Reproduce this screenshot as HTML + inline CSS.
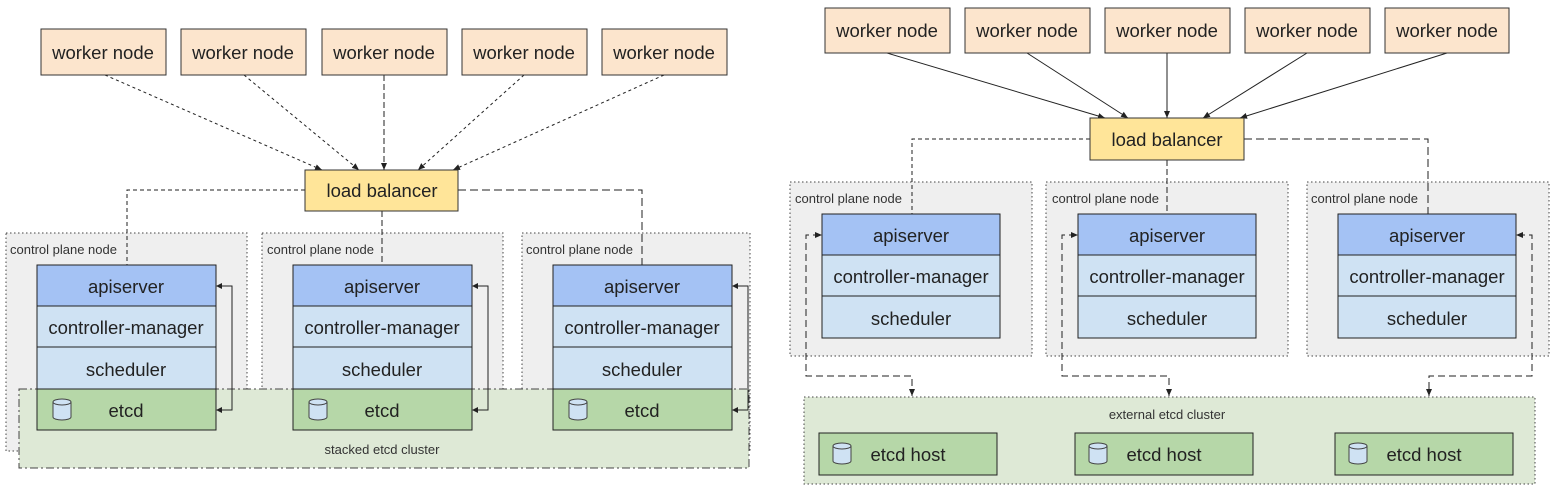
<!DOCTYPE html>
<html><head><meta charset="utf-8"><style>
html,body{margin:0;padding:0;background:#fff;}
svg{display:block;font-family:"Liberation Sans",Arial,sans-serif;}
.big{font-size:18.5px;fill:#222;}
.sm{font-size:13px;fill:#333;}
</style></head><body>
<svg width="1554" height="492" viewBox="0 0 1554 492" xmlns="http://www.w3.org/2000/svg">
<defs>
<marker id="a" markerWidth="8" markerHeight="8" refX="7" refY="4" orient="auto" markerUnits="userSpaceOnUse"><path d="M0,1 L7,4 L0,7 z" fill="#222"/></marker>
<g id="cyl"><path d="M0,3 a9,3 0 0 1 18,0 v15 a9,3 0 0 1 -18,0 z" fill="#cfe2f3" stroke="#444" stroke-width="1"/><path d="M0,3 a9,3 0 0 0 18,0" fill="none" stroke="#444"/></g>
</defs>

<!-- LEFT DIAGRAM -->
<g stroke="#444" stroke-width="1">
<rect x="6" y="233" width="241" height="218" fill="#efefef" stroke-dasharray="1.5,2.5"/>
<rect x="262" y="233" width="241" height="218" fill="#efefef" stroke-dasharray="1.5,2.5"/>
<rect x="522" y="233" width="228" height="218" fill="#efefef" stroke-dasharray="1.5,2.5"/>
<rect x="19" y="389" width="730" height="79" fill="#dee9d6" stroke-dasharray="8,3,2,3"/>
</g>
<g class="sm"><text x="10" y="254">control plane node</text><text x="267" y="254">control plane node</text><text x="526" y="254">control plane node</text>
<text x="382" y="454" text-anchor="middle">stacked etcd cluster</text></g>

<g stroke="#222" stroke-width="1" fill="none">
<path d="M305,190 H127 V265" stroke-dasharray="4,3"/>
<path d="M382,211 V265" stroke-dasharray="6,3"/>
<path d="M458,190 H642 V265" stroke-dasharray="8,4"/>
<path d="M105,75 L322,170" stroke-dasharray="3,3" marker-end="url(#a)"/>
<path d="M244,75 L359,170" stroke-dasharray="3,3" marker-end="url(#a)"/>
<path d="M384,75 L384,170" stroke-dasharray="6,3" marker-end="url(#a)"/>
<path d="M524,75 L418,170" stroke-dasharray="3,3" marker-end="url(#a)"/>
<path d="M664,75 L453,170" stroke-dasharray="3,3" marker-end="url(#a)"/>
</g>

<g stroke="#333" stroke-width="1">
<rect x="41" y="29" width="125" height="46" fill="#fce5cd"/>
<rect x="181" y="29" width="125" height="46" fill="#fce5cd"/>
<rect x="322" y="29" width="125" height="46" fill="#fce5cd"/>
<rect x="462" y="29" width="125" height="46" fill="#fce5cd"/>
<rect x="602" y="29" width="125" height="46" fill="#fce5cd"/>
<rect x="305" y="170" width="153" height="41" fill="#ffe599"/>
</g>
<g class="big" text-anchor="middle">
<text x="103" y="59">worker node</text><text x="243" y="59">worker node</text><text x="384" y="59">worker node</text><text x="524" y="59">worker node</text><text x="664" y="59">worker node</text>
<text x="382" y="197">load balancer</text>
</g>

<g id="st1">
<g stroke="#222" stroke-width="1">
<rect x="37" y="265" width="179" height="41" fill="#a4c2f4"/>
<rect x="37" y="306" width="179" height="41" fill="#cfe2f3"/>
<rect x="37" y="347" width="179" height="42" fill="#cfe2f3"/>
<rect x="37" y="389" width="179" height="41" fill="#b6d7a8"/>
</g>
<g class="big" text-anchor="middle"><text x="126" y="293">apiserver</text><text x="126" y="334">controller-manager</text><text x="126" y="376">scheduler</text><text x="126" y="417">etcd</text></g>
<use href="#cyl" x="53" y="399"/>
<path d="M218,286 H232 V410 H218" fill="none" stroke="#222"/>
<path d="M216,286 l6,-3 v6 z M216,410 l6,-3 v6 z" fill="#222"/>
</g>
<use href="#st1" x="256"/>
<use href="#st1" x="516"/>

<!-- RIGHT DIAGRAM -->
<g stroke="#444" stroke-width="1">
<rect x="790" y="182" width="242" height="174" fill="#efefef" stroke-dasharray="1.5,2.5"/>
<rect x="1046" y="182" width="242" height="174" fill="#efefef" stroke-dasharray="1.5,2.5"/>
<rect x="1307" y="182" width="242" height="174" fill="#efefef" stroke-dasharray="1.5,2.5"/>
<rect x="804" y="397" width="731" height="87" fill="#dee9d6" stroke-dasharray="1.5,2.5"/>
</g>
<g class="sm"><text x="795" y="203">control plane node</text><text x="1052" y="203">control plane node</text><text x="1311" y="203">control plane node</text>
<text x="1167" y="419" text-anchor="middle">external etcd cluster</text></g>

<g stroke="#222" stroke-width="1" fill="none">
<path d="M1090,139 H912 V214" stroke-dasharray="4,3"/>
<path d="M1167,160 V214" stroke-dasharray="6,3"/>
<path d="M1244,139 H1428 V214" stroke-dasharray="8,4"/>
<path d="M820,235 H806 V376 H912 V396" stroke-dasharray="7,4" marker-end="url(#a)"/>
<path d="M1076,235 H1062 V376 H1169 V396" stroke-dasharray="7,4" marker-end="url(#a)"/>
<path d="M1518,235 H1532 V376 H1429 V396" stroke-dasharray="7,4" marker-end="url(#a)"/>
<path d="M887,53 L1105,118" marker-end="url(#a)"/>
<path d="M1027,53 L1128,118" marker-end="url(#a)"/>
<path d="M1167,53 L1167,118" marker-end="url(#a)"/>
<path d="M1307,53 L1203,118" marker-end="url(#a)"/>
<path d="M1447,53 L1240,118" marker-end="url(#a)"/>
</g>
<path d="M822,235 l-7,-3 v6 z M1078,235 l-7,-3 v6 z M1516,235 l7,-3 v6 z" fill="#222"/>

<g stroke="#333" stroke-width="1">
<rect x="825" y="8" width="125" height="45" fill="#fce5cd"/>
<rect x="965" y="8" width="125" height="45" fill="#fce5cd"/>
<rect x="1105" y="8" width="125" height="45" fill="#fce5cd"/>
<rect x="1245" y="8" width="125" height="45" fill="#fce5cd"/>
<rect x="1385" y="8" width="124" height="45" fill="#fce5cd"/>
<rect x="1090" y="118" width="154" height="42" fill="#ffe599"/>
</g>
<g class="big" text-anchor="middle">
<text x="887" y="37">worker node</text><text x="1027" y="37">worker node</text><text x="1167" y="37">worker node</text><text x="1307" y="37">worker node</text><text x="1447" y="37">worker node</text>
<text x="1167" y="146">load balancer</text>
</g>

<g id="st2">
<g stroke="#222" stroke-width="1">
<rect x="822" y="214" width="178" height="41" fill="#a4c2f4"/>
<rect x="822" y="255" width="178" height="41" fill="#cfe2f3"/>
<rect x="822" y="296" width="178" height="42" fill="#cfe2f3"/>
<rect x="819" y="433" width="178" height="42" fill="#b6d7a8"/>
</g>
<g class="big" text-anchor="middle"><text x="911" y="242">apiserver</text><text x="911" y="283">controller-manager</text><text x="911" y="325">scheduler</text><text x="908" y="461">etcd host</text></g>
<use href="#cyl" x="833" y="443"/>
</g>
<use href="#st2" x="256"/>
<use href="#st2" x="516"/>
</svg>
</body></html>
